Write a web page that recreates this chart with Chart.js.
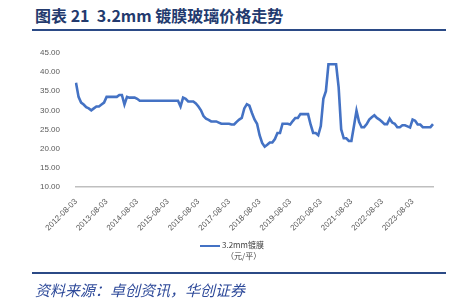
<!DOCTYPE html>
<html>
<head>
<meta charset="utf-8">
<script src="https://cdn.jsdelivr.net/npm/chart.js@4.4.0/dist/chart.umd.min.js"></script>
<style>
  body { margin: 0; background: #fff; width: 466px; height: 300px; position: relative; overflow: hidden; font-family: "Noto Sans CJK SC", "DejaVu Sans", sans-serif; }
  #title { position: absolute; left: 35px; top: 3px; font-size: 16px; font-weight: bold; color: #233a6e; white-space: nowrap; }
  .rule { position: absolute; left: 32px; width: 414px; height: 2px; background: #2b4a86; }
  #wrap { position: absolute; left: 0; top: 40px; width: 466px; height: 200px; }
  #legend { position: absolute; left: 200px; top: 239px; font-size: 8px; color: #404040; line-height: 11px; }
  #legend .ln { display: inline-block; width: 20px; height: 2.5px; background: #4472c4; vertical-align: middle; margin-right: 2px; }
  #foot { position: absolute; left: 35px; top: 279px; font-size: 15px; font-style: italic; color: #2e4a9a; white-space: nowrap; }
</style>
</head>
<body>
<div id="title">图表 21&nbsp;&nbsp;3.2mm 镀膜玻璃价格走势</div>
<div class="rule" style="top:29px"></div>
<div id="wrap"><canvas id="grafico"></canvas></div>
<div id="legend"><span class="ln"></span>3.2mm镀膜<br><span style="margin-left:26px">（元/平）</span></div>
<div class="rule" style="top:272px"></div>
<div id="foot">资料来源：卓创资讯，华创证券</div>
<script>
// monthly prices from 2012-08 to 2024-04 (yuan / m2)
var precos = [
  37.2, 33.5, 32.0, 31.5, 30.8, 30.5, 30.0, 30.5, 31.0, 31.0, 31.5, 32.0,
  33.5, 33.5, 33.5, 33.5, 33.5, 34.0, 34.0, 31.5, 33.5, 33.3, 33.3, 33.3,
  33.0, 32.5, 32.5, 32.5, 32.5, 32.5, 32.5, 32.5, 32.5, 32.5, 32.5, 32.5,
  32.5, 32.5, 32.5, 32.5, 32.5, 31.0, 33.3, 33.0, 32.3, 32.3, 32.3, 31.8,
  31.0, 30.0, 28.5, 27.8, 27.5, 27.1, 27.1, 27.1, 26.8, 26.5, 26.5, 26.5,
  26.5, 26.3, 26.3, 27.0, 27.6, 28.0, 30.5, 31.6, 31.2, 29.3, 27.6, 26.5,
  23.5, 21.5, 20.5, 21.0, 21.6, 21.6, 22.5, 24.1, 24.1, 26.5, 26.5, 26.5,
  26.3, 27.2, 28.0, 28.0, 29.0, 29.0, 29.0, 29.0, 26.3, 24.1, 24.1, 23.5,
  25.9, 33.0, 35.0, 42.0, 42.0, 42.0, 42.0, 36.0, 25.0, 22.7, 22.7, 22.0,
  22.0, 25.9, 29.9, 27.0, 25.6, 25.6, 26.4, 27.6, 28.2, 28.7, 28.0, 27.6,
  27.0, 26.4, 26.4, 27.8, 26.8, 26.5, 25.6, 25.6, 26.1, 26.1, 25.8, 25.5,
  27.6, 27.3, 26.3, 26.3, 25.6, 25.6, 25.6, 25.6, 26.4
];
var anoInicio = 2012;
var mesInicio = 8;
var yTicks = [10, 15, 20, 25, 30, 35, 40, 45];

var datas = [];
for (var i = 0; i < precos.length; i++) {
  var m = mesInicio - 1 + i;
  var ano = anoInicio + Math.floor(m / 12);
  var mes = (m % 12) + 1;
  datas.push(ano + '-' + (mes < 10 ? '0' + mes : mes) + '-03');
}

const ctx = document.getElementById('grafico');
new Chart(ctx, {
  type: 'line',
  data: {
    labels: datas,
    datasets: [{
      label: '3.2mm镀膜',
      data: precos,
      borderColor: '#4472c4',
      borderWidth: 2.6,
      pointRadius: 0,
      tension: 0,
      fill: false
    }]
  },
  options: {
    responsive: true,
    maintainAspectRatio: false,
    animation: false,
    layout: { padding: { left: 0, right: 33, top: 10, bottom: 0 } },
    plugins: { legend: { display: false }, tooltip: { enabled: false } },
    scales: {
      x: {
        offset: false,
        grid: { display: false },
        border: { display: true, color: '#bfbfbf', width: 1.5 },
        afterFit: (s) => { s.height = 53; },
        ticks: {
          autoSkip: false,
          minRotation: 45,
          maxRotation: 45,
          padding: 2,
          color: '#595959',
          font: { size: 8, family: 'Liberation Sans' },
          callback: function(v, idx) { return idx % 12 == 0 ? this.getLabelForValue(v) : null; }
        }
      },
      y: {
        min: 10,
        max: 45,
        afterBuildTicks: (s) => { s.ticks = yTicks.map(v => ({ value: v })); },
        afterFit: (s) => { s.width = 76; },
        grid: { display: false },
        border: { display: false },
        ticks: {
          padding: 8,
          color: '#595959',
          font: { size: 8, family: 'Liberation Sans' },
          callback: (v) => v.toFixed(2)
        }
      }
    }
  }
});
</script>
</body>
</html>
